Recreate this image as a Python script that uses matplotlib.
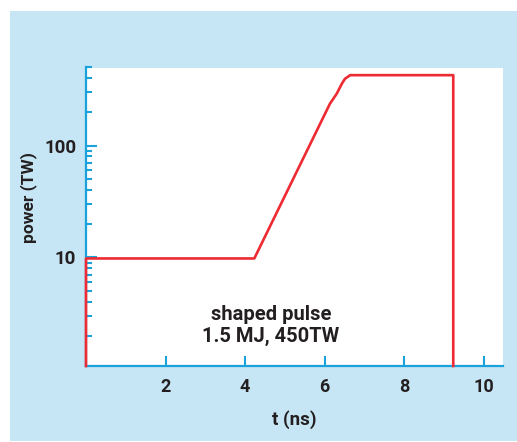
import matplotlib
matplotlib.use("Agg")
import matplotlib.pyplot as plt
from matplotlib.patches import Rectangle
from matplotlib.ticker import LogLocator, FixedLocator, NullFormatter

# pulse shape
t_ns = [0, 0, 4.23, 6.13, 6.3, 6.43, 6.51, 6.64, 9.23, 9.23]
power_tw = [1.07, 9.8, 9.8, 237, 291, 358, 397, 427, 427, 1.07]
xticks = [2, 4, 6, 8, 10]
yticks = [10, 100]
note = "shaped pulse\n1.5 MJ, 450TW"

blue_bg = "#c6e5f5"
blue_ax = "#1aa3db"
red = "#ee2a33"
ink = "#231f20"

plt.rcParams['font.family'] = ['Roboto', 'DejaVu Sans']

fig = plt.figure(figsize=(5.17, 4.42), dpi=100)
fig.patch.set_facecolor("white")
fig.add_artist(Rectangle((10/517, 1 - 441/442), 507/517, 430/442,
                         transform=fig.transFigure, facecolor=blue_bg,
                         edgecolor="none", zorder=-5))

ax = fig.add_axes([86/517, 1 - 366/442, 417/517, 298.5/442])
ax.set_zorder(2)
ax.set_facecolor("white")
ax.set_yscale("log")
ax.set_xlim(0, 10.48)
ax.set_ylim(1.07, 500)

ax.plot(t_ns, power_tw, color=red, lw=1.9, zorder=4, clip_on=False,
        solid_joinstyle="round")

for s in ["top", "right"]:
    ax.spines[s].set_visible(False)
for s in ["left", "bottom"]:
    ax.spines[s].set_color(blue_ax)
    ax.spines[s].set_linewidth(1.6)

ax.xaxis.set_major_locator(FixedLocator(xticks))
ax.yaxis.set_major_locator(FixedLocator(yticks))
ax.yaxis.set_minor_locator(LogLocator(base=10, subs=range(2, 10)))
ax.yaxis.set_minor_formatter(NullFormatter())
ax.set_xticklabels([str(v) for v in xticks])
ax.set_yticklabels([str(v) for v in yticks])

ax.tick_params(axis="x", direction="in", length=7.5, width=1.5, color=blue_ax,
               labelsize=13, labelcolor=ink, pad=9)
ax.tick_params(axis="y", which="major", direction="in", length=8, width=1.5,
               color=blue_ax, labelsize=13.5, labelcolor=ink, pad=7)
ax.tick_params(axis="y", which="minor", direction="in", length=4.5, width=1.5,
               color=blue_ax)
for lab in ax.get_xticklabels() + ax.get_yticklabels():
    lab.set_fontweight("bold")

ax.set_xlabel("t (ns)", fontsize=13.5, fontweight="bold", color=ink, labelpad=10)
ax.set_ylabel("power (TW)", fontsize=12.5, fontweight="bold", color=ink)
ax.yaxis.set_label_coords(-0.1175, 0.565)

ax.text(4.65, 0.135, note, transform=ax.get_xaxis_transform(), ha="center",
        va="center", fontsize=14.5, fontweight="bold", color=ink, linespacing=1.2)

fig.savefig("out.png", dpi=100)
